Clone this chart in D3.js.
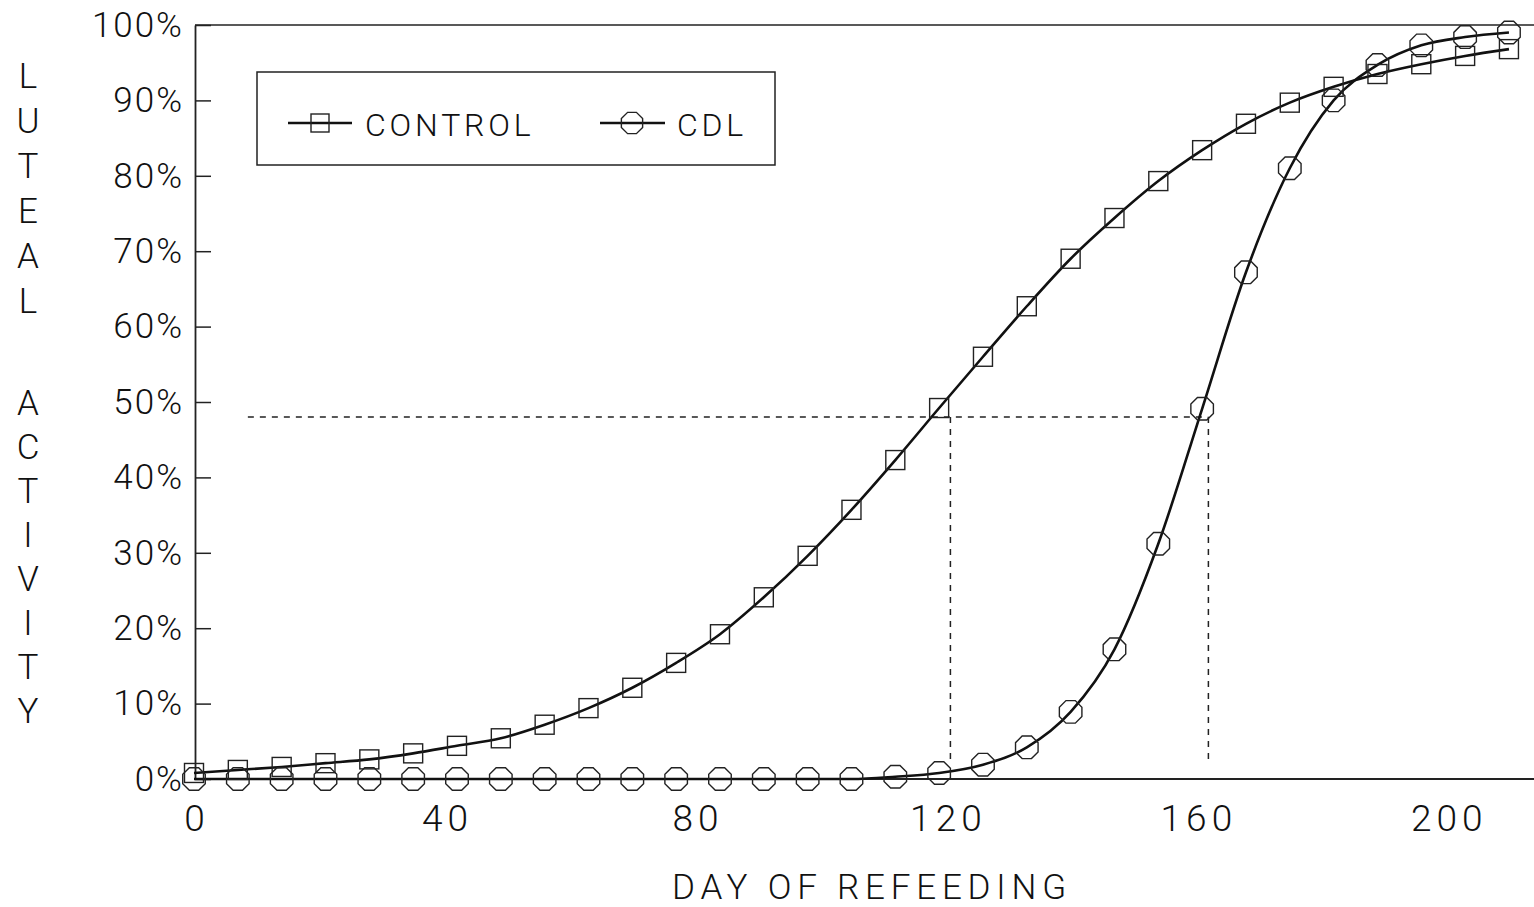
<!DOCTYPE html>
<html>
<head>
  <meta charset="utf-8">
  <script src="https://d3js.org/d3.v7.min.js"></script>
  <style>
    body { margin: 0; background: #fff; }
    text { font-family: Roboto, "Liberation Sans", Arial, sans-serif; font-weight: 300; fill: #111; }
  </style>
</head>
<body>
<script>
  "use strict";

  // data: days of refeeding (weekly) and % of animals with luteal activity
  var days = d3.range(0, 211, 7);
  var controlPct = [0.8, 1.2, 1.6, 2.1, 2.6, 3.4, 4.4, 5.4, 7.2, 9.4, 12.1, 15.4, 19.2, 24.1, 29.6,
                    35.7, 42.3, 49.2, 56.0, 62.7, 69.0, 74.4, 79.3, 83.4, 86.9, 89.7, 91.8, 93.5,
                    94.8, 95.9, 96.8];
  var cdlPct = [0.0, 0.0, 0.0, 0.0, 0.0, 0.0, 0.0, 0.0, 0.0, 0.0, 0.0, 0.0, 0.0, 0.0, 0.0,
                0.0, 0.3, 0.8, 1.9, 4.2, 8.9, 17.2, 31.2, 49.1, 67.2, 81.0, 90.0, 94.7,
                97.3, 98.4, 99.0];
  var xTicks = [0, 40, 80, 120, 160, 200];
  var yTicks = [0, 10, 20, 30, 40, 50, 60, 70, 80, 90, 100];
  // 50% reference: level and days where each curve crosses it
  var halfLevel = 48;
  var refStartDay = 8.6;
  var controlHalfDay = 120.8;
  var cdlHalfDay = 162.0;

  var W = 1534, H = 907;
  var svg = d3.select("body").append("svg")
      .attr("width", W).attr("height", H);

  var x = d3.scaleLinear().domain([0, 214]).range([194, 1534]);
  var y = d3.scaleLinear().domain([0, 100]).range([779, 25]);

  // frame lines: top and bottom (left one comes from the axis)
  svg.append("line").attr("x1", 195).attr("x2", 1534).attr("y1", y(100)).attr("y2", y(100))
      .attr("stroke", "#222").attr("stroke-width", 1.5);
  svg.append("line").attr("x1", 195).attr("x2", 1534).attr("y1", y(0)).attr("y2", y(0))
      .attr("stroke", "#222").attr("stroke-width", 2);

  var yAxis = svg.append("g")
      .attr("transform", "translate(195,0)")
      .call(d3.axisLeft(y).tickValues(yTicks).tickSizeInner(-16).tickSizeOuter(0)
        .tickPadding(13).tickFormat(function (d) { return d + "%"; }));
  yAxis.select(".domain").attr("stroke", "#222").attr("stroke-width", 1.8);
  yAxis.selectAll(".tick line").attr("stroke", "#222").attr("stroke-width", 1.5);
  yAxis.selectAll(".tick text").style("font-size", "35px").style("letter-spacing", "2px")
      .attr("dx", "2px").attr("fill", "#111");

  var xAxis = svg.append("g")
      .attr("transform", "translate(0," + y(0) + ")")
      .call(d3.axisBottom(x).tickValues(xTicks).tickSize(0).tickPadding(26));
  xAxis.select(".domain").remove();
  xAxis.selectAll(".tick text").style("font-size", "37px").style("letter-spacing", "5px")
      .attr("dx", "2.5px").attr("fill", "#111");

  // axis titles
  svg.append("text")
      .attr("x", 872).attr("y", 899)
      .attr("text-anchor", "middle")
      .style("font-size", "35px").style("letter-spacing", "5.8px")
      .text("DAY OF REFEEDING");

  var yTitleA = "LUTEAL".split("");
  var yTitleB = "ACTIVITY".split("");
  svg.selectAll(".ytA").data(yTitleA).enter().append("text")
      .attr("x", 28).attr("y", function (d, i) { return 88 + i * 45; })
      .attr("text-anchor", "middle").style("font-size", "35px")
      .text(function (d) { return d; });
  svg.selectAll(".ytB").data(yTitleB).enter().append("text")
      .attr("x", 28).attr("y", function (d, i) { return 415 + i * 44; })
      .attr("text-anchor", "middle").style("font-size", "35px")
      .text(function (d) { return d; });

  // dashed 50% reference lines
  var dash = "6,6";
  svg.append("line")
      .attr("x1", x(refStartDay)).attr("x2", x(cdlHalfDay))
      .attr("y1", y(halfLevel)).attr("y2", y(halfLevel))
      .attr("stroke", "#222").attr("stroke-width", 1.5).attr("stroke-dasharray", dash);
  [controlHalfDay, cdlHalfDay].forEach(function (d) {
    svg.append("line")
        .attr("x1", x(d)).attr("x2", x(d))
        .attr("y1", y(halfLevel)).attr("y2", y(2))
        .attr("stroke", "#222").attr("stroke-width", 1.5).attr("stroke-dasharray", dash);
  });

  // curves
  var line = d3.line()
      .x(function (d) { return x(d[0]); })
      .y(function (d) { return y(d[1]); })
      .curve(d3.curveMonotoneX);
  var controlData = d3.zip(days, controlPct);
  var cdlData = d3.zip(days, cdlPct);

  svg.append("path").datum(controlData).attr("d", line)
      .attr("fill", "none").attr("stroke", "#111").attr("stroke-width", 2.6);
  svg.append("path").datum(cdlData).attr("d", line)
      .attr("fill", "none").attr("stroke", "#111").attr("stroke-width", 2.6);

  // marker shapes
  function octagon(r) {
    var pts = d3.range(8).map(function (k) {
      var a = Math.PI / 8 + k * Math.PI / 4;
      return [r * Math.cos(a), r * Math.sin(a)];
    });
    return "M" + pts.join("L") + "Z";
  }
  var sq = 19;

  svg.selectAll(".sq").data(controlData).enter().append("rect")
      .attr("x", function (d) { return x(d[0]) - sq / 2; })
      .attr("y", function (d) { return y(d[1]) - sq / 2; })
      .attr("width", sq).attr("height", sq)
      .attr("fill", "none").attr("stroke", "#222").attr("stroke-width", 1.4);

  svg.selectAll(".oc").data(cdlData).enter().append("path")
      .attr("transform", function (d) { return "translate(" + x(d[0]) + "," + y(d[1]) + ")"; })
      .attr("d", octagon(12.2))
      .attr("fill", "none").attr("stroke", "#222").attr("stroke-width", 1.4);

  // legend
  var lg = svg.append("g");
  lg.append("rect").attr("x", 257).attr("y", 72).attr("width", 518).attr("height", 93)
      .attr("fill", "none").attr("stroke", "#222").attr("stroke-width", 1.5);
  lg.append("line").attr("x1", 288).attr("x2", 352).attr("y1", 123).attr("y2", 123)
      .attr("stroke", "#111").attr("stroke-width", 2.6);
  lg.append("rect").attr("x", 311).attr("y", 114).attr("width", 18).attr("height", 18)
      .attr("fill", "none").attr("stroke", "#222").attr("stroke-width", 1.4);
  lg.append("text").attr("x", 365).attr("y", 136).style("font-size", "32px")
      .style("letter-spacing", "3.8px").text("CONTROL");
  lg.append("line").attr("x1", 600).attr("x2", 665).attr("y1", 123).attr("y2", 123)
      .attr("stroke", "#111").attr("stroke-width", 2.6);
  lg.append("path").attr("transform", "translate(632,123)").attr("d", octagon(11.5))
      .attr("fill", "none").attr("stroke", "#222").attr("stroke-width", 1.4);
  lg.append("text").attr("x", 677).attr("y", 136).style("font-size", "32px")
      .style("letter-spacing", "3.8px").text("CDL");
</script>
</body>
</html>
